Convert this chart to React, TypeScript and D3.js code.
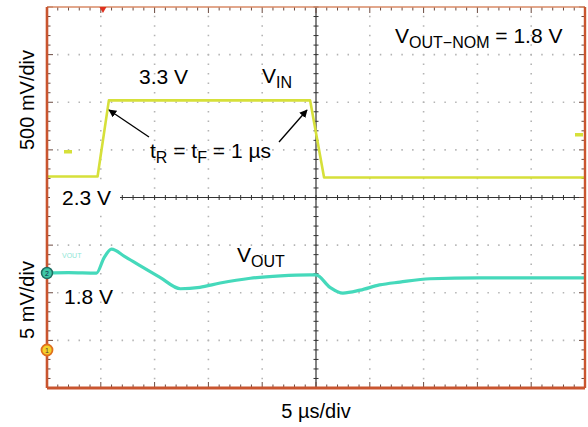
import React from "react";
import * as d3 from "d3";

// time axis, µs (5 µs/div, 10 divisions)
const timeDomain = [0, 50];
const xDivs = 10;
const yDivs = 8;

// V_IN trace (channel 1, volts, 500 mV/div, centre line = 2.3 V)
const vinTime = [0, 4.7, 5.75, 24.45, 25.75, 50];
const vinVolts = [2.52, 2.52, 3.32, 3.32, 2.51, 2.51];

// V_OUT trace (channel 2, mV deviation from 1.8 V, 5 mV/div)
const voutTime = [0, 2, 4.6, 5.3, 6.0, 7.2, 8.6, 10.5, 12.4, 14.2, 16.1, 18.9, 21.7, 24.4, 25.0, 26.3, 27.5, 29.1, 30.9, 32.8, 35.6, 40.2, 44.9, 50];
const voutMv = [0, 0.05, 0, 1.6, 2.5, 1.75, 0.8, -0.45, -1.65, -1.5, -1.05, -0.55, -0.3, -0.2, -0.2, -1.5, -2.1, -1.8, -1.25, -0.95, -0.6, -0.5, -0.5, -0.5];

const vinDomain = [0.3, 4.3];
const voutDomain = [-12.07, 27.93];

const FONT = "'Liberation Sans', Arial, Helvetica, sans-serif";

const App: React.FC = () => {
  const width = 588;
  const height = 427;
  const left = 47, right = 585, top = 7, bottom = 388;

  const x = d3.scaleLinear().domain(timeDomain).range([left, right]);
  const yIn = d3.scaleLinear().domain(vinDomain).range([bottom, top]);
  const yOut = d3.scaleLinear().domain(voutDomain).range([bottom, top]);

  const xStep = (right - left) / xDivs;
  const yStep = (bottom - top) / yDivs;
  const cx = left + xStep * 5;
  const cy = top + yStep * 4;

  const vinLine = d3
    .line<number>()
    .x((d, i) => x(vinTime[i]))
    .y((d) => yIn(d));

  const voutLine = d3
    .line<number>()
    .x((d, i) => x(voutTime[i]))
    .y((d) => yOut(d))
    .curve(d3.curveMonotoneX);

  const xMinor = d3.range(0, xDivs * 5 + 1).map((i) => left + (i * xStep) / 5);
  const yMinor = d3.range(0, yDivs * 5 + 1).map((i) => top + (i * yStep) / 5);

  const border = "#c9552f";
  const grid = "#b4b4b4";

  return (
    <svg width={width} height={height} style={{ position: "absolute", left: 0, top: 0, background: "#fff" }} fontFamily={FONT}>
      <defs>
        <marker id="arr" viewBox="0 0 10 10" refX="9" refY="5" markerWidth="8" markerHeight="8" orient="auto-start-reverse" markerUnits="userSpaceOnUse">
          <path d="M0,0 L10,5 L0,10 z" fill="#000" />
        </marker>
      </defs>

      {/* dotted grid */}
      {d3.range(1, xDivs).filter((i) => i !== 5).map((i) => (
        <line key={"gx" + i} x1={left + i * xStep} x2={left + i * xStep} y1={top} y2={bottom}
          stroke={grid} strokeWidth={1.6} strokeDasharray={`1.5 ${yStep / 5 - 1.5}`} strokeDashoffset={0.75} />
      ))}
      {d3.range(1, yDivs).filter((i) => i !== 4).map((i) => (
        <line key={"gy" + i} x1={left} x2={right} y1={top + i * yStep} y2={top + i * yStep}
          stroke={grid} strokeWidth={1.6} strokeDasharray={`1.5 ${xStep / 5 - 1.5}`} strokeDashoffset={0.75} />
      ))}

      {/* centre lines with minor ticks */}
      <line x1={left} x2={right} y1={cy} y2={cy} stroke="#333" strokeWidth={1.2} />
      <line x1={cx} x2={cx} y1={top} y2={bottom} stroke="#333" strokeWidth={1.2} />
      {xMinor.map((v, i) => (
        <line key={"cxm" + i} x1={v} x2={v} y1={cy - 2.5} y2={cy + 2.5} stroke="#333" strokeWidth={1} />
      ))}
      {yMinor.map((v, i) => (
        <line key={"cym" + i} x1={cx - 2.5} x2={cx + 2.5} y1={v} y2={v} stroke="#333" strokeWidth={1} />
      ))}

      {/* border ticks */}
      {xMinor.map((v, i) => (
        <g key={"bt" + i} stroke="#6b4a40" strokeWidth={1}>
          <line x1={v} x2={v} y1={top} y2={top + (i % 5 === 0 ? 6 : 3.5)} />
          <line x1={v} x2={v} y1={bottom} y2={bottom - (i % 5 === 0 ? 6 : 3.5)} />
        </g>
      ))}
      {yMinor.map((v, i) => (
        <g key={"bl" + i} stroke="#6b4a40" strokeWidth={1}>
          <line x1={left} x2={left + (i % 5 === 0 ? 6 : 3.5)} y1={v} y2={v} />
          <line x1={right} x2={right - (i % 5 === 0 ? 6 : 3.5)} y1={v} y2={v} />
        </g>
      ))}

      {/* label backing on centre line */}
      <rect x={50} y={186} width={70} height={24} fill="#fff" />

      {/* traces */}
      <path d={vinLine(vinVolts) || ""} fill="none" stroke="#d6e03a" strokeWidth={2.6} strokeLinejoin="round" />
      <path d={voutLine(voutMv) || ""} fill="none" stroke="#45d9bb" strokeWidth={3.2} strokeLinejoin="round" />

      {/* frame */}
      <line x1={left} x2={right} y1={top} y2={top} stroke="#d98a66" strokeWidth={1.6} />
      <line x1={right} x2={right} y1={top} y2={bottom} stroke={border} strokeWidth={2.4} />
      <line x1={left} x2={left} y1={top} y2={bottom} stroke={border} strokeWidth={2.6} />
      <line x1={left} x2={right} y1={bottom} y2={bottom} stroke={border} strokeWidth={2.8} />

      {/* trigger marker */}
      <path d={`M${left + xStep * 1.04 - 3.5},${top} L${left + xStep * 1.04 + 3.5},${top} L${left + xStep * 1.04},${top + 6} z`} fill="#e0301e" />

      {/* channel markers */}
      <rect x={64} y={150} width={8} height={3.5} fill="#d6e03a" />
      <rect x={575} y={133} width={8} height={3.5} fill="#d6e03a" />
      <text x={62} y={258} fontSize={7} fill="#8fe6d6">VOUT</text>
      <circle cx={left} cy={yOut(0)} r={5.5} fill="#3fc7a6" stroke="#1f6e62" strokeWidth={1.5} />
      <text x={left} y={yOut(0) + 2.5} fontSize={7} textAnchor="middle" fill="#124">2</text>
      <circle cx={left} cy={350} r={5.5} fill="#f4d12a" stroke="#e0701e" strokeWidth={1.8} />
      <text x={left} y={352.5} fontSize={7} textAnchor="middle" fill="#533">1</text>

      {/* annotations */}
      <text x={139} y={84} fontSize={21}>3.3 V</text>
      <text x={262} y={83} fontSize={21}>V<tspan fontSize={16} dy={5}>IN</tspan></text>
      <text x={395} y={43} fontSize={21}>
        V<tspan fontSize={16} dy={5}>OUT−NOM</tspan><tspan dy={-5}> = 1.8 V</tspan>
      </text>
      <text x={150} y={158} fontSize={21}>
        t<tspan fontSize={16} dy={5}>R</tspan><tspan dy={-5}> = t</tspan><tspan fontSize={16} dy={5}>F</tspan><tspan dy={-5}> = 1 µs</tspan>
      </text>
      <line x1={149} y1={137} x2={109} y2={110} stroke="#000" strokeWidth={1.3} markerEnd="url(#arr)" />
      <line x1={279} y1={142} x2={307} y2={110} stroke="#000" strokeWidth={1.3} markerEnd="url(#arr)" />
      <text x={62} y={205} fontSize={21}>2.3 V</text>
      <text x={64} y={304} fontSize={21}>1.8 V</text>
      <text x={237} y={262} fontSize={21}>V<tspan fontSize={16} dy={5}>OUT</tspan></text>

      {/* axis captions */}
      <text transform="translate(34,100) rotate(-90)" textAnchor="middle" fontSize={20}>500 mV/div</text>
      <text transform="translate(34,300) rotate(-90)" textAnchor="middle" fontSize={20}>5 mV/div</text>
      <text x={cx} y={418} textAnchor="middle" fontSize={20}>5 µs/div</text>
    </svg>
  );
};

export default App;
